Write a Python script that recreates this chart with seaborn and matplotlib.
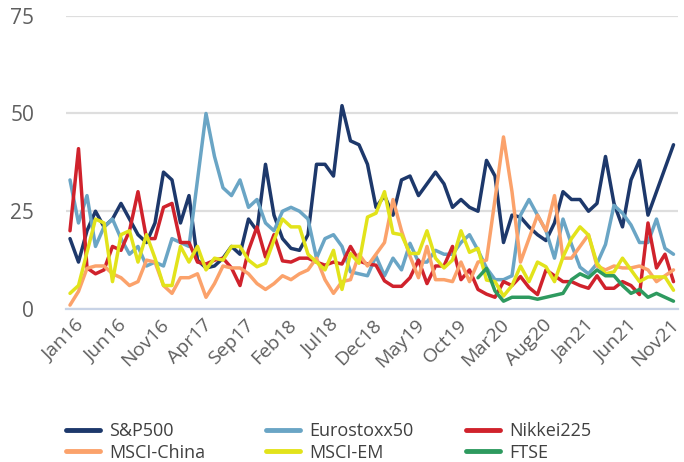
import numpy as np
import pandas as pd
import matplotlib
matplotlib.use("Agg")
import matplotlib.pyplot as plt
import matplotlib.transforms as mtransforms
import seaborn as sns

# ---------------- data (monthly, Jan16 .. Dec21) ----------------
months = pd.date_range("2016-01-01", "2021-12-01", freq="MS")
month_labels = [d.strftime("%b%y") for d in months]

sp500 = [18, 12, 20, 25, 21, 23, 27, 23, 19, 17, 22, 35, 33, 22, 29, 12.5, 10.5, 11,
         13, 16, 14, 23, 20, 37, 24, 18, 15.5, 15, 19, 37, 37, 34, 52, 43, 42, 37,
         26, 29, 24, 33, 34, 29, 32, 35, 32, 26, 28, 26, 25, 38, 34, 17, 24, 23.5,
         21, 19, 17.5, 22, 30, 28, 28, 25, 27, 39, 27, 21, 33, 38, 24, 30, 36, 42]
eurostoxx50 = [33, 22, 29, 16, 21, 23, 18, 14, 16, 11, 12, 11, 18, 17, 16, 33, 50, 39,
               31, 29, 33, 26, 28, 22, 20, 25, 26, 25, 23, 13, 18, 19, 16, 9.5, 9, 8.5,
               13.5, 8.5, 13, 10, 16.8, 12, 12, 15, 14, 14, 17, 19, 15, 10.5, 7.5, 7.5, 8.5, 24,
               28, 24, 20, 13, 23, 16.5, 10.7, 9, 11.6, 16.5, 26.5, 24.5, 21.5, 17, 17, 23, 15.5, 14]
nikkei225 = [20, 41, 10.5, 9, 10, 16, 15, 20, 30, 18, 18, 26, 27, 17, 17, 12, 11.5, 12.5,
             13, 10.5, 6, 15, 21, 13.3, 19, 12.3, 12, 13, 13, 12, 11.2, 12, 11.5, 16, 12.3, 11.5,
             11.2, 7.2, 5.8, 5.8, 8, 12.5, 6.5, 11, 11, 16, 7.5, 10, 5, 3.8, 3, 7, 6, 8.3,
             5.5, 3.7, 10, 8.5, 7, 7, 6, 5.3, 8.5, 5.3, 5.3, 7, 6, 3.7, 22, 10.5, 14, 7]
msci_china = [1, 4.5, 10.4, 11, 11, 9, 8, 6, 7, 12.5, 12, 6, 4, 8, 8, 9, 3, 6.5,
              11, 10.5, 10.5, 9, 6.5, 5, 6.5, 8.5, 7.5, 9, 10, 13, 7.5, 4, 7, 7.5, 14, 11,
              14, 17, 28, 20, 13.5, 8, 16, 7.5, 7.5, 7, 12, 7, 12, 12.5, 28, 44, 30, 12,
              18, 24, 20, 29, 13, 13, 16, 19, 11, 10, 11, 10.5, 10.5, 11, 10, 7, 8.5, 10]
msci_em = [4, 6, 14.5, 23, 22, 7, 19, 20, 12, 19, 13, 6, 6, 16, 12, 16, 10, 13,
           12.5, 16, 16, 12.5, 10.8, 11.7, 17.6, 23, 21, 21, 14, 12, 10, 15, 5, 14.2, 11.7, 23.5,
           24.5, 30, 19.4, 19, 14.2, 14.2, 20, 13, 10.5, 12.5, 20, 14.5, 15.5, 7.4, 7, 3.3, 6, 11,
           7, 12, 10.8, 7, 13.3, 18, 21, 18.9, 11.7, 9, 9.5, 13, 10, 7, 8.2, 8.2, 8.2, 4.8]
ftse = [np.nan] * 48 + [8, 10.4, 4.6, 2, 3, 3, 3, 2.5, 3, 3.5, 4, 7.5, 9, 8, 10, 8.5,
                         8.5, 6, 4, 5, 3, 4, 3, 2]

series_names = ["S&P500", "Eurostoxx50", "Nikkei225", "MSCI-China", "MSCI-EM", "FTSE"]
series_values = [sp500, eurostoxx50, nikkei225, msci_china, msci_em, ftse]
colors = ["#1d386b", "#6aa5c5", "#d0222c", "#fba26b", "#e2e31b", "#2e9a5f"]

y_ticks = [0, 25, 50, 75]
x_tick_step = 5

# ---------------- long table ----------------
n = len(months)
df = pd.concat(
    [pd.DataFrame({"idx": np.arange(n), "value": vals, "series": name})
     for name, vals in zip(series_names, series_values)],
    ignore_index=True,
)

sns.set_theme(style="white")
plt.rcParams["font.family"] = ["Open Sans", "DejaVu Sans"]

fig = plt.figure(figsize=(6.84, 4.62), dpi=100)
ax = fig.add_axes([66 / 684, 1 - 309 / 462, 612 / 684, (309 - 15.7) / 462])

sns.lineplot(data=df, x="idx", y="value", hue="series", hue_order=series_names,
             palette=dict(zip(series_names, colors)), linewidth=2.5, ax=ax,
             legend=False, sort=False, estimator=None)

ax.set_xlim(-0.47, n - 1 + 0.53)
ax.set_ylim(0, 75)
ax.set_xlabel("")
ax.set_ylabel("")

ax.set_yticks(y_ticks)
ax.set_yticklabels([str(t) for t in y_ticks])
ax.yaxis.grid(True, color="#dedede", linewidth=1.6)
ax.xaxis.grid(False)
ax.set_axisbelow(True)
ax.tick_params(axis="y", length=0, pad=23, labelsize=15, labelcolor="#5f5f5f")

tick_pos = list(range(0, n, x_tick_step))
ax.set_xticks(tick_pos)
ax.set_xticklabels([month_labels[i] for i in tick_pos], rotation=45, ha="right",
                   rotation_mode="anchor")
ax.tick_params(axis="x", length=0, pad=5, labelsize=14, labelcolor="#5f5f5f")
offset = mtransforms.ScaledTranslation(5 / 100, 0, fig.dpi_scale_trans)
for lab in ax.get_xticklabels():
    lab.set_transform(lab.get_transform() + offset)

for s in ["left", "right", "top"]:
    ax.spines[s].set_visible(False)
ax.spines["bottom"].set_color("#c8d3e6")
ax.spines["bottom"].set_linewidth(1.6)

# ---------------- legend: three columns ----------------
handles = {name: plt.Line2D([], [], color=c, linewidth=3.5) for name, c in zip(series_names, colors)}
cols = [["S&P500", "MSCI-China"], ["Eurostoxx50", "MSCI-EM"], ["Nikkei225", "FTSE"]]
col_x = [66, 266, 466]
for names, xpx in zip(cols, col_x):
    fig.legend([handles[nm] for nm in names], names, loc="upper left",
               bbox_to_anchor=(xpx / 684, 1 - 422 / 462), frameon=False,
               fontsize=13, borderpad=0, borderaxespad=0, handlelength=1.9,
               handletextpad=0.5, labelspacing=0.2, labelcolor="#404040")

fig.savefig("out.png", dpi=100)
